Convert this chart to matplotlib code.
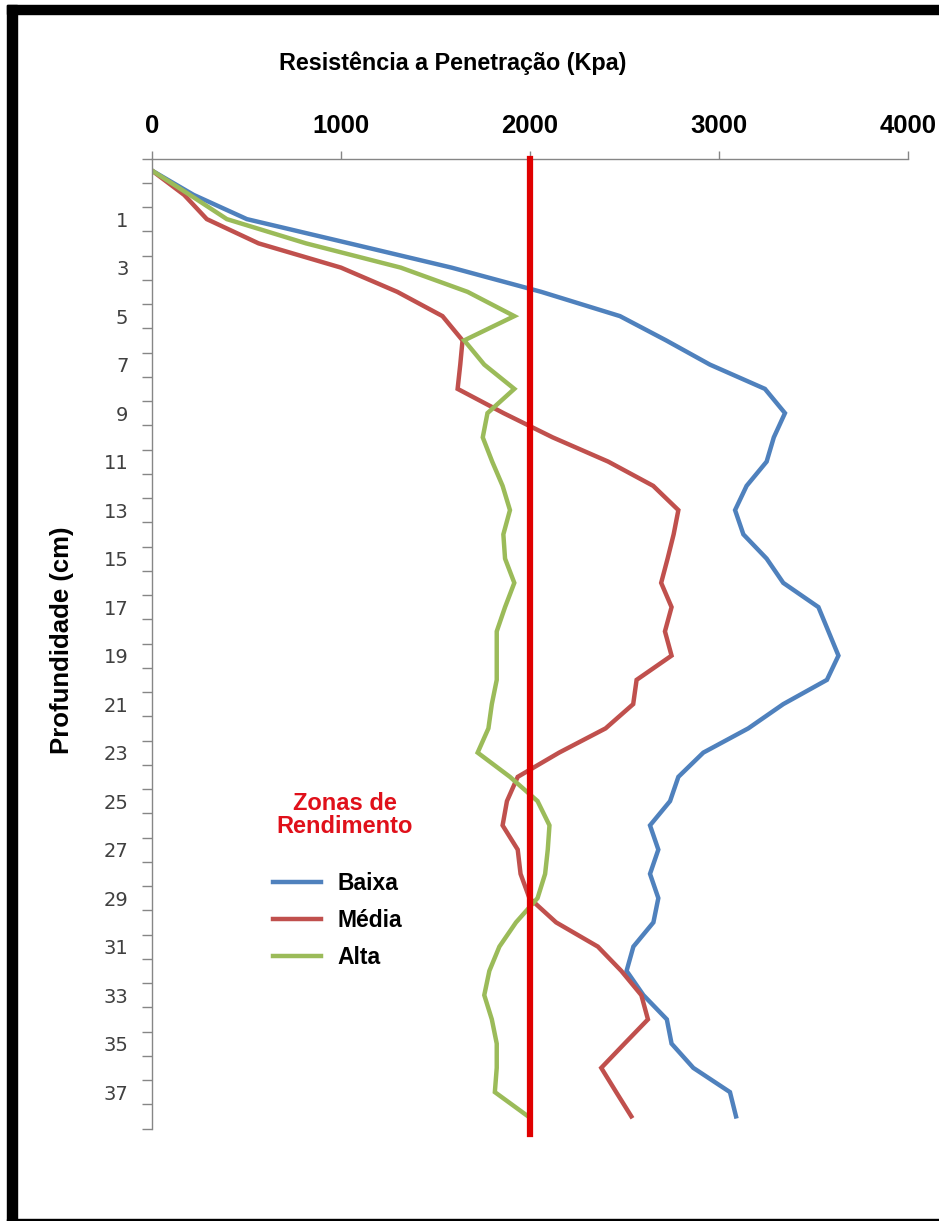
import matplotlib
matplotlib.use('Agg')
import matplotlib.pyplot as plt
import numpy as np
from matplotlib.patches import Rectangle

# resistencia a penetracao (Kpa) por camada de profundidade
baixa = [0, 220, 502, 1045, 1585, 2060, 2476, 2720, 2952, 3243,
         3349, 3290, 3252, 3146, 3085, 3129, 3252, 3340, 3526, 3579,
         3632, 3571, 3340, 3155, 2917, 2785, 2741, 2635, 2679, 2635,
         2679, 2653, 2547, 2511, 2600, 2724, 2749, 2864, 3058, 3090]
media = [0, 170, 290, 564, 1000, 1298, 1537, 1643, 1631, 1617,
         1860, 2120, 2414, 2652, 2785, 2760, 2728, 2694, 2749, 2714,
         2749, 2564, 2546, 2400, 2154, 1935, 1878, 1855, 1935, 1950,
         1997, 2138, 2359, 2483, 2589, 2624, 2500, 2377, 2456, 2536]
alta = [0, 200, 396, 815, 1316, 1670, 1917, 1652, 1758, 1917,
        1775, 1750, 1800, 1855, 1894, 1859, 1868, 1917, 1868, 1824,
        1824, 1824, 1798, 1780, 1723, 1894, 2040, 2103, 2094, 2080,
        2040, 1926, 1838, 1785, 1758, 1798, 1824, 1824, 1814, 1990]

nomes = ['Baixa', 'Média', 'Alta']
cores = ['#4F81BD', '#C0504D', '#9BBB59']
rotulos_y = [str(v) for v in range(1, 38, 2)]
xticks = [0, 1000, 2000, 3000, 4000]
limite = 2000

fig = plt.figure(figsize=(9.39, 12.21), dpi=100)
ax = fig.add_axes([152/939, 1 - 1128.5/1221, 756/939, 970/1221])

n = len(baixa)
pos = np.arange(n) + 0.5

for serie, nome, cor in zip([baixa, media, alta], nomes, cores):
    ax.plot(serie, pos, color=cor, linewidth=3.2, label=nome, solid_joinstyle='miter')

# linha de referencia
ax.axvline(limite, ymin=-0.006, ymax=1, color='#e00000', linewidth=4.5, clip_on=False, zorder=5)

ax.set_xlim(0, 4000)
ax.set_ylim(n, 0)

# eixo x no topo
ax.xaxis.tick_top()
ax.set_xticks(xticks)
ax.set_xticklabels([str(v) for v in xticks], fontsize=18.5, fontweight='bold',
                   family='Liberation Sans')
ax.tick_params(axis='x', direction='out', length=6, width=1, color='#868686', pad=9)

# eixo y: marcas por categoria, rotulos a cada duas
ax.set_yticks(np.arange(n + 1))
ax.set_yticklabels([])
ax.set_yticks(pos[2::2], minor=True)
ax.set_yticklabels(rotulos_y, minor=True, fontsize=14, color='#404040', family='DejaVu Sans')
ax.tick_params(axis='y', which='major', direction='out', length=7, width=1, color='#868686')
ax.tick_params(axis='y', which='minor', length=0, pad=17)

for s in ['right', 'bottom']:
    ax.spines[s].set_visible(False)
for s in ['left', 'top']:
    ax.spines[s].set_color('#868686')
    ax.spines[s].set_linewidth(1)

fig.text(453/939, 1 - 70/1221, 'Resistência a Penetração (Kpa)', ha='center', va='baseline',
         fontsize=16.8, fontweight='bold', family='Liberation Sans')
fig.text(62/939, 1 - 640/1221, 'Profundidade (cm)', rotation=90, ha='center', va='center',
         fontsize=18.5, fontweight='bold', family='Liberation Sans')

# legenda
fig.text(345/939, 1 - 815/1221, 'Zonas de\nRendimento', ha='center', va='center',
         fontsize=17, fontweight='bold', color='#e0101a', family='Liberation Sans',
         linespacing=1.05)
leg = ax.legend(loc='upper left', bbox_to_anchor=(273/939, 1 - 872/1221),
                bbox_transform=fig.transFigure, frameon=False, borderpad=0,
                borderaxespad=0, handlelength=2.1, handletextpad=0.7, labelspacing=0.62,
                prop={'family': 'Liberation Sans', 'weight': 'bold', 'size': 16.5})

# moldura preta da imagem
fig.patches.append(Rectangle((7/939, 0), 10/939, 1 - 5/1221, transform=fig.transFigure,
                             color='black', zorder=10))
fig.patches.append(Rectangle((7/939, 1 - 14/1221), 1, 9/1221, transform=fig.transFigure,
                             color='black', zorder=10))
fig.patches.append(Rectangle((7/939, 0), 1, 2.5/1221, transform=fig.transFigure,
                             color='black', zorder=10))

fig.savefig('out.png', dpi=100)
